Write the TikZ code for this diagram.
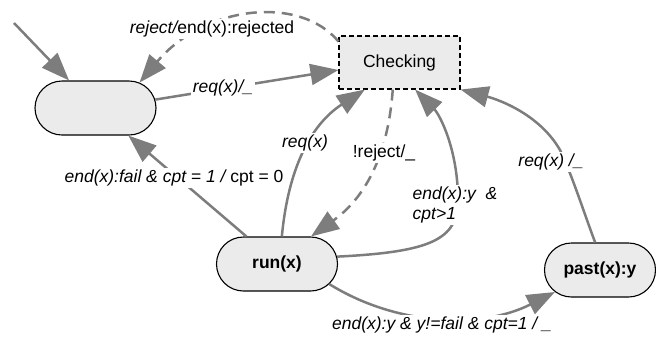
\documentclass[tikz,border=0pt]{standalone}
\usepackage{fontspec}
\setmainfont{Liberation Sans}
\usetikzlibrary{shapes.misc,arrows.meta}
\definecolor{edgegray}{RGB}{125,125,125}
\definecolor{statefill}{RGB}{235,235,235}
\newcommand\dgsize{\fontsize{17.5bp}{20bp}\selectfont}
\tikzset{
  stbox/.style={rounded rectangle, draw=black, line width=1.1bp, fill=statefill,
    minimum width=121bp, minimum height=54bp, inner sep=0pt, font=\dgsize\bfseries},
  chkbox/.style={rectangle, draw=black, dash pattern=on 5bp off 3bp, line width=1.1bp,
    fill=statefill, minimum width=121bp, minimum height=53bp, inner sep=0pt, font=\dgsize},
  conn/.style={draw=edgegray, line width=2.5bp, -{Triangle[length=28bp,width=21bp]}},
  dconn/.style={conn, dash pattern=on 11bp off 7bp},
  lbl/.style={fill=white, inner sep=1.5bp, font=\dgsize\itshape}
}
\begin{document}
\begin{tikzpicture}[x=1bp,y=-1bp]
\useasboundingbox (0,0) rectangle (656,336);
% states
\node[stbox] (s0) at (95.5,108) {};
\node[chkbox] (chk) at (399.5,62.5) {Checking};
\node[stbox] (run) at (277,264) {run(x)};
\node[stbox, minimum width=111bp] (past) at (600,270) {past(x):y};
\coordinate (init) at (14,23);
% connectors
\draw[conn] (init) -- (s0);
\draw[dconn] (chk.161) .. controls (300,-5) and (205,5) .. (s0.30);
\draw[conn] (s0.8) -- (chk.-173);
\draw[conn] (run.138) -- (s0.-40);
\draw[conn] (run.80) .. controls (288,170) and (310,125) .. (chk.-142.5);
\draw[dconn] (chk.-104) .. controls (387,170) and (355,205) .. (run.39);
\draw[conn] (run.7) .. controls (430,252) and (458,240) .. (458,200)
  .. controls (458,150) and (440,115) .. (chk.-60);
\draw[conn] (past.100) .. controls (583,210) and (572,175) .. (560,150)
  .. controls (540,115) and (500,100) .. (chk.south east);
\draw[conn] (run.-21) .. controls (395,325) and (480,330) .. (past.-154);
% labels
\node[lbl] (lrej) at (212,29) {reject/\upshape end(x):rejected};
\node[lbl] (lreq0) at (223,88) {req(x)/\_};
\node[lbl] (lfail) at (174,178) {end(x):fail \& cpt = 1 / \upshape cpt = 0};
\node[lbl] (lreq1) at (305,143) {req(x)};
\node[lbl, font=\dgsize] (lnrej) at (384,153) {!reject/\_};
\node[lbl, anchor=west, align=left] (lcpt) at (411,205) {end(x):y\ \ \&\\cpt>1};
\node[lbl] (lreq2) at (551,162) {req(x) /\_};
\node[lbl] (lpast) at (442,325) {end(x):y \& y!=fail \& cpt=1 / \_};
\end{tikzpicture}
\end{document}
